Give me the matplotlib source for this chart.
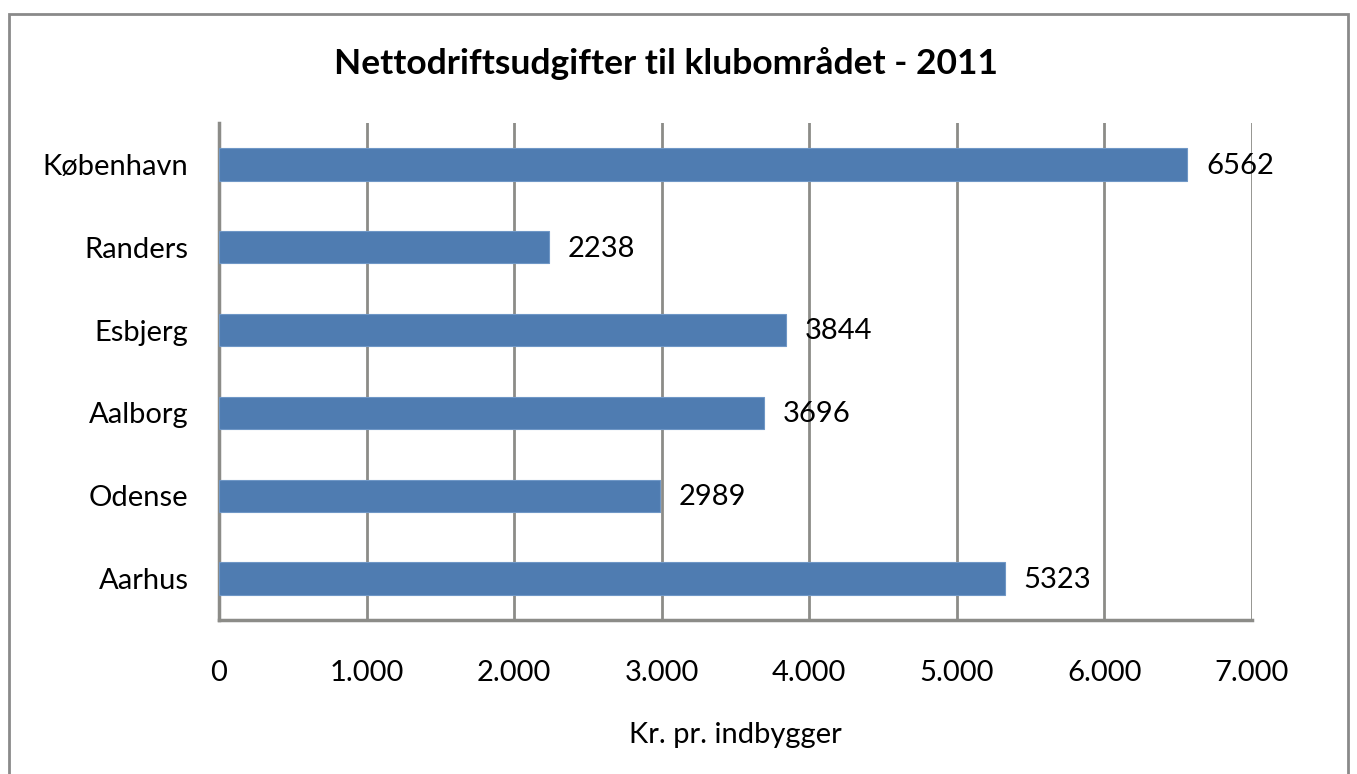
import matplotlib
matplotlib.use("Agg")
import matplotlib.pyplot as plt
from matplotlib.patches import Rectangle
from matplotlib.ticker import FuncFormatter

plt.rcParams['font.family'] = ['Lato', 'DejaVu Sans']

cities = ["Aarhus", "Odense", "Aalborg", "Esbjerg", "Randers", "København"]
values = [5323, 2989, 3696, 3844, 2238, 6562]
title = "Nettodriftsudgifter til klubområdet - 2011"
xlabel = "Kr. pr. indbygger"

bar_color = "#4f7cb1"
grid_color = "#8c8c88"

fig = plt.figure(figsize=(13.57, 7.74), dpi=100)
ax = fig.add_axes([0.1614, 0.199, 0.7612, 0.642])

ypos = range(len(cities))
ax.barh(ypos, values, height=0.39, color=bar_color, edgecolor="#6f97c6",
        linewidth=0.8, zorder=3)
for y, v in zip(ypos, values):
    ax.annotate(str(v), (v, y), xytext=(13.5, -1), textcoords="offset points",
                va="center", ha="left", fontsize=21, zorder=4)

ax.set_xlim(0, 7000)
ax.set_ylim(-0.5, len(cities) - 0.5)
ax.set_xticks(range(0, 7001, 1000))
ax.xaxis.set_major_formatter(FuncFormatter(lambda x, p: f"{int(x):,}".replace(",", ".")))
ax.set_yticks(list(ypos))
ax.set_yticklabels(cities)
ax.tick_params(axis="x", length=0, pad=29, labelsize=21)
ax.tick_params(axis="y", length=0, pad=22, labelsize=21)
ax.grid(axis="x", color=grid_color, linewidth=2, zorder=0)
ax.set_axisbelow(True)

for s in ["top", "right"]:
    ax.spines[s].set_visible(False)
for s in ["left", "bottom"]:
    ax.spines[s].set_color(grid_color)
    ax.spines[s].set_linewidth(2.5)

ax.set_xlabel(xlabel, fontsize=21, labelpad=26)
fig.text(0.491, 0.918, title, ha="center", va="center", fontsize=25.5,
         fontweight="bold")

fig.patches.append(Rectangle((9 / 1357, -0.05), 1339 / 1357, 1.05 - 14 / 774,
                             transform=fig.transFigure, fill=False,
                             edgecolor="#8a8a8a", linewidth=2))

fig.savefig("out.png", dpi=100)
